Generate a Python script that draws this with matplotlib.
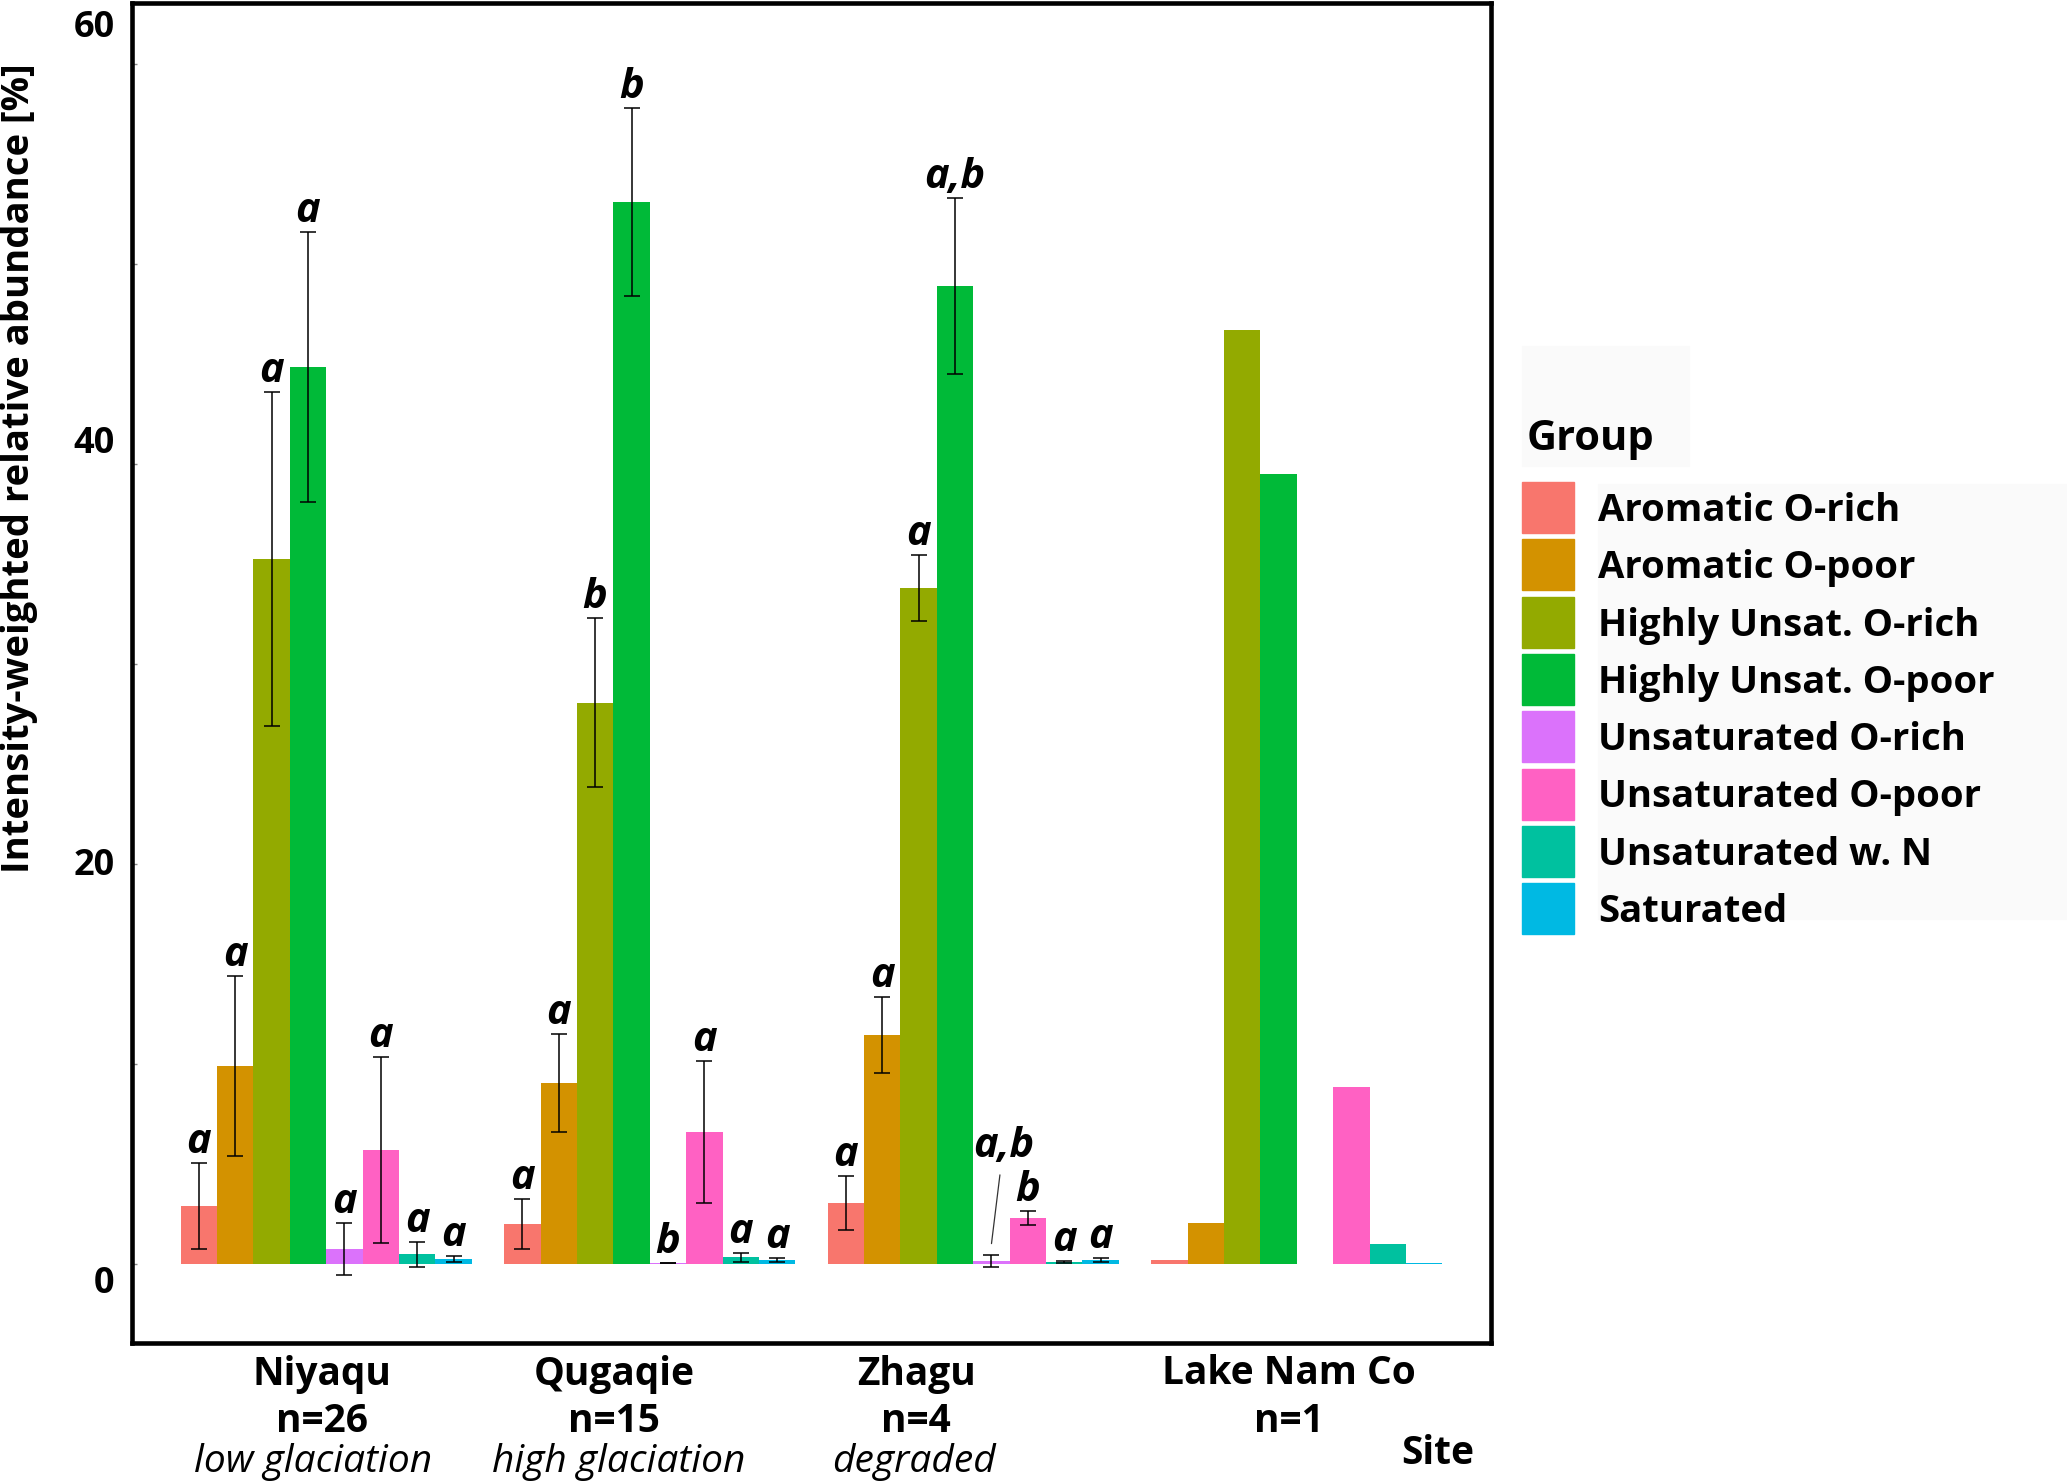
import numpy as np
import matplotlib
matplotlib.use("Agg")
import matplotlib.pyplot as plt
from matplotlib import font_manager
from matplotlib.patches import Rectangle

# pick a family that really has a bold face installed
family = 'Open Sans'
for cand in ['Noto Sans', 'Open Sans', 'DejaVu Sans']:
    f = font_manager.findfont(font_manager.FontProperties(family=cand, weight='bold'),
                              fallback_to_default=False)
    if 'bold' in f.lower():
        family = cand
        break
plt.rcParams['font.family'] = [family, 'DejaVu Sans']

W, H = 2067, 1482

sites = ["Niyaqu", "Qugaqie", "Zhagu", "Lake Nam Co"]
site_n = ["n=26", "n=15", "n=4", "n=1"]
site_note = ["low glaciation", "high glaciation", "degraded", ""]

groups = ["Aromatic O-rich", "Aromatic O-poor", "Highly Unsat. O-rich",
          "Highly Unsat. O-poor", "Unsaturated O-rich", "Unsaturated O-poor",
          "Unsaturated w. N", "Saturated"]
colors = ["#F8766D", "#D39200", "#93AA00", "#00BA38",
          "#DB72FB", "#FF61C3", "#00C19F", "#00B9E3"]

# mean relative abundance per group, one list per site
niyaqu_mean = [2.88, 9.9, 35.25, 44.85, 0.74, 5.68, 0.47, 0.22]
qugaqie_mean = [2.0, 9.05, 28.05, 53.1, 0.02, 6.59, 0.32, 0.17]
zhagu_mean = [3.04, 11.45, 33.8, 48.9, 0.15, 2.28, 0.08, 0.17]
namco_mean = [0.17, 2.05, 46.68, 39.5, 0.0, 8.83, 0.98, 0.05]

# error bar half-widths (Lake Nam Co has n=1, no error bars)
niyaqu_err = [2.15, 4.5, 8.35, 6.75, 1.31, 4.63, 0.62, 0.15]
qugaqie_err = [1.25, 2.45, 4.23, 4.7, 0.01, 3.54, 0.23, 0.1]
zhagu_err = [1.34, 1.9, 1.65, 4.4, 0.3, 0.36, 0.05, 0.1]

# significance letters
niyaqu_let = ["a", "a", "a", "a", "a", "a", "a", "a"]
qugaqie_let = ["a", "a", "b", "b", "b", "a", "a", "a"]
zhagu_let = ["a", "a", "a", "a,b", "a,b", "b", "a", "a"]

means = [niyaqu_mean, qugaqie_mean, zhagu_mean, namco_mean]
errs = [niyaqu_err, qugaqie_err, zhagu_err, None]
letters = [niyaqu_let, qugaqie_let, zhagu_let, None]


def px(x, y):
    return x / W, 1 - y / H


fig = plt.figure(figsize=(W / 100, H / 100), dpi=100)
ax = fig.add_axes([132 / W, 1 - 1343 / H, (1491 - 132) / W, (1343 - 3) / H])

ng = len(groups)
bw = 0.9 / ng
xs = np.arange(1, len(sites) + 1)

for s in range(len(sites)):
    for g in range(ng):
        x = xs[s] + (g - (ng - 1) / 2) * bw
        ax.bar(x, means[s][g], width=bw, color=colors[g], linewidth=0)
        if errs[s] is not None:
            ax.errorbar(x, means[s][g], yerr=errs[s][g], fmt='none',
                        ecolor='black', elinewidth=1.1, capsize=6, capthick=1.1)
            top = means[s][g] + errs[s][g]
            if s == 2 and g == 4:
                # label moved up with a leader line
                ax.annotate(letters[s][g], xy=(x, 1.0), xytext=(x + 0.037, 5.35),
                            ha='center', va='baseline', fontsize=30,
                            fontweight='bold', fontstyle='italic',
                            arrowprops=dict(arrowstyle='-', color='#333333',
                                            lw=0.9, shrinkA=4, shrinkB=0))
            else:
                ax.text(x, top + 0.5, letters[s][g], ha='center', va='baseline',
                        fontsize=30, fontweight='bold', fontstyle='italic')

ax.set_xlim(0.4, 4.6)
ax.set_ylim(-3.97, 63.03)
ax.set_xticks([])

ax.set_yticks(np.arange(0, 61, 10), minor=True)
ax.tick_params(axis='y', which='minor', direction='in', length=3.6,
               width=1, color='#888888')
ax.set_yticks([-0.8, 20.1, 41.2, 62.0])
ax.set_yticklabels(["0", "20", "40", "60"], fontsize=26, fontweight='bold')
ax.tick_params(axis='y', which='major', length=0, pad=12.5)

for sp in ax.spines.values():
    sp.set_linewidth(3.3)
    sp.set_color('black')

fig.text(*px(19, 468), "Intensity-weighted relative abundance [%]", rotation=90,
         ha='center', va='center', fontsize=27.5, fontweight='bold')

# site labels below the axis
name_x = [322, 614, 916, 1289]
note_x = [313, 619, 914, 0]
for s in range(len(sites)):
    fig.text(*px(name_x[s], 1374), sites[s], ha='center', va='center',
             fontsize=28, fontweight='bold')
    fig.text(*px(name_x[s], 1421), site_n[s], ha='center', va='center',
             fontsize=28, fontweight='bold')
    if site_note[s]:
        fig.text(*px(note_x[s], 1462), site_note[s], ha='center', va='center',
                 fontsize=28, fontstyle='italic')
fig.text(*px(1438, 1454), "Site", ha='center', va='center',
         fontsize=28, fontweight='bold')

# legend drawn by hand
fig.patches.append(Rectangle(px(1522, 466), 167 / W, 120 / H,
                             transform=fig.transFigure, color='#FAFAFA', zorder=0))
fig.patches.append(Rectangle(px(1598, 919), 469 / W, 435 / H,
                             transform=fig.transFigure, color='#FAFAFA', zorder=0))
fig.text(*px(1527, 439), "Group", ha='left', va='center',
         fontsize=30, fontweight='bold')
for g in range(ng):
    y0 = 482 + g * 57.3
    fig.patches.append(Rectangle(px(1522, y0 + 51), 52 / W, 51 / H,
                                 transform=fig.transFigure, color=colors[g]))
    fig.text(*px(1598, y0 + 29), groups[g], ha='left', va='center',
             fontsize=27.5, fontweight='bold')

fig.savefig("out.png", dpi=100, facecolor='white')
